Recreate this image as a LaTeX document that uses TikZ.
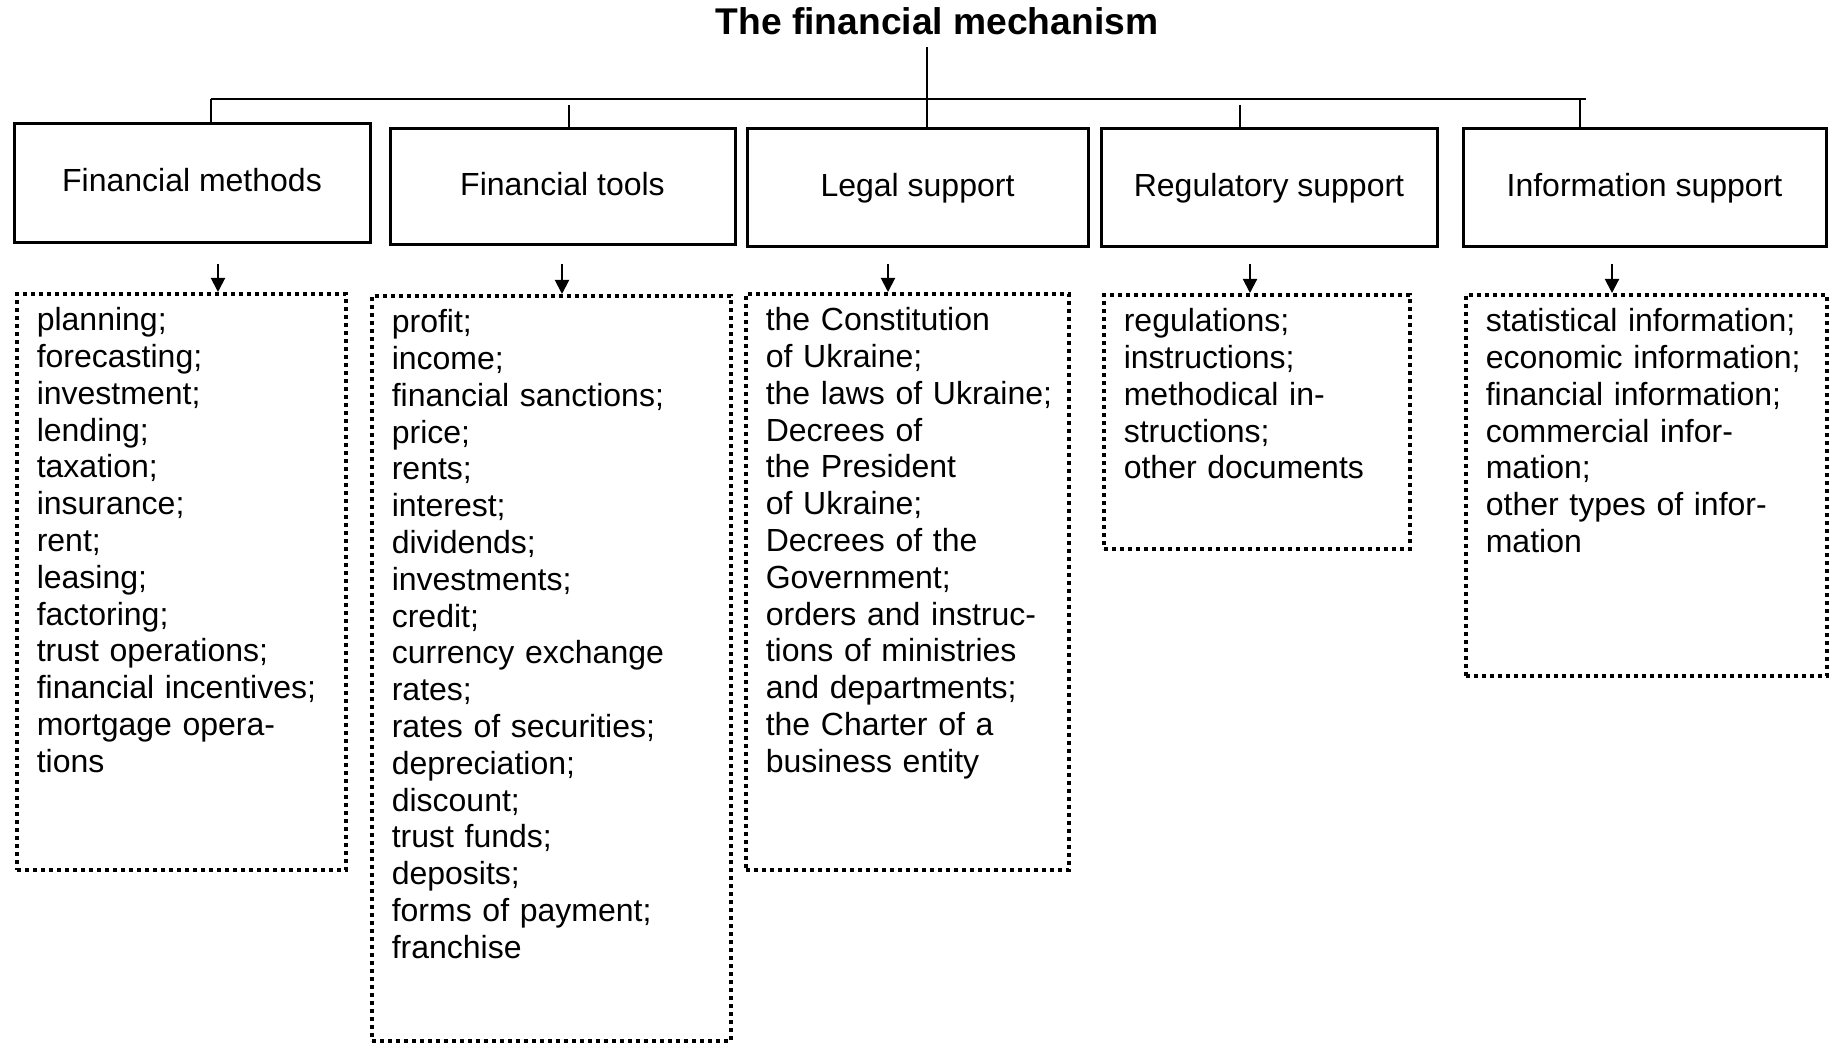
\documentclass[tikz,border=0pt]{standalone}
\usepackage{fontspec}
\setmainfont{Liberation Sans}
\usetikzlibrary{arrows.meta}

\begin{document}
\begin{tikzpicture}[x=0.5pt, y=-0.5pt,
    >={Triangle[length=7pt,width=7pt]},
    title/.style={font=\bfseries\fontsize{18.6}{22}\selectfont, inner sep=0pt},
    head/.style={draw, line width=1.5pt, inner sep=0pt, text height=11.7pt, text depth=3.3pt,
        font=\fontsize{16}{18.4}\selectfont},
    listbox/.style={draw, line width=1.8pt, dash pattern=on 2pt off 2pt, anchor=north west,
        align=left, inner xsep=10pt, inner ysep=6.5pt, text height=12pt,
        font=\fontsize{16}{18.4}\selectfont},
    link/.style={line width=1pt}]
        \useasboundingbox (0, 0) rectangle (1832, 1048);
        \draw (937, 21) node(mech)[title]{The financial mechanism};
        \draw (192, 183.5) node(methods)[head, minimum width=178pt, minimum height=59.5pt]{Financial methods};
        \draw (562.5, 187) node(tools)[head, minimum width=172.5pt, minimum height=58pt]{Financial tools};
        \draw (917.5, 188) node(legal)[head, minimum width=170.5pt, minimum height=59pt]{Legal support};
        \draw (1269, 188) node(regul)[head, minimum width=168pt, minimum height=59pt]{Regulatory support};
        \draw (1644.5, 188) node(info)[head, minimum width=181.5pt, minimum height=59pt]{Information support};
        \coordinate (top) at (927, 47);
        \coordinate (busl) at (211, 99);
        \coordinate (busr) at (1586, 99);
        \coordinate (d2) at (569, 105);
        \coordinate (d4) at (1240, 105);
        \coordinate (d5) at (1580, 99);
        \draw[link] (top) -- (top |- legal.north);
        \draw[link] (busl) -- (busr);
        \draw[link] (busl) -- (busl |- methods.north);
        \draw[link] (d2) -- (d2 |- tools.north);
        \draw[link] (d4) -- (d4 |- regul.north);
        \draw[link] (d5) -- (d5 |- info.north);
        \draw (15, 292) node(methodsL)[listbox, text width=144.5pt, text depth=263pt]{planning;\\
            forecasting;\\ investment;\\ lending;\\ taxation;\\ insurance;\\ rent;\\ leasing;\\
            factoring;\\ trust operations;\\ financial incentives;\\ mortgage opera-\\ tions};
        \draw (370, 294) node(toolsL)[listbox, text width=159.5pt, text depth=347.5pt]{profit;\\
            income;\\ financial sanctions;\\ price;\\ rents;\\ interest;\\ dividends;\\ investments;\\
            credit;\\ currency exchange\\ rates;\\ rates of securities;\\ depreciation;\\ discount;\\
            trust funds;\\ deposits;\\ forms of payment;\\ franchise};
        \draw (744, 292) node(legalL)[listbox, text width=141.5pt, text depth=263pt]{the Constitution\\
            of Ukraine;\\ the~laws~of~Ukraine;\\ Decrees of\\ the President\\ of Ukraine;\\
            Decrees of the\\ Government;\\ orders and instruc-\\ tions of ministries\\
            and departments;\\ the Charter of a\\ business entity};
        \draw (1102, 293) node(regulL)[listbox, text width=133pt, text depth=102pt]{regulations;\\
            instructions;\\ methodical in-\\ structions;\\ other documents};
        \draw (1464, 293) node(infoL)[listbox, text width=160.5pt, text depth=165.5pt]{statistical information;\\
            economic information;\\ financial information;\\ commercial infor-\\ mation;\\
            other types of infor-\\ mation};
        \coordinate (a1) at (218, 264);
        \coordinate (a2) at (562, 264);
        \coordinate (a3) at (888, 264);
        \coordinate (a4) at (1250, 264);
        \coordinate (a5) at (1612, 264);
        \draw[->, link] (a1) -- (a1 |- methodsL.north);
        \draw[->, link] (a2) -- (a2 |- toolsL.north);
        \draw[->, link] (a3) -- (a3 |- legalL.north);
        \draw[->, link] (a4) -- (a4 |- regulL.north);
        \draw[->, link] (a5) -- (a5 |- infoL.north);
    \end{tikzpicture}
\end{document}
